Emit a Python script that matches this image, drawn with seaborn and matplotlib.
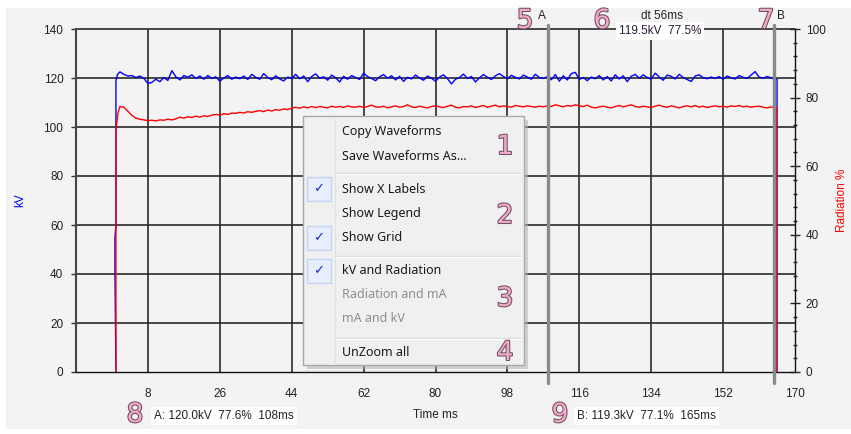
import matplotlib
matplotlib.use("Agg")
import matplotlib.pyplot as plt
import matplotlib.patheffects as pe
from matplotlib.patches import Rectangle
from matplotlib.lines import Line2D
import seaborn as sns

# ---------------- data ----------------
sample_time = list(range(1, 166))          # ms, 1 ms sampling

kv_start_time = [0.0, -0.25, -0.25, 0.0, 0.0, 0.4]
kv_start_values = [0, 41, 55, 60, 119, 121.5]
kv_values = [
    122.5, 121.5, 120.8, 121.0, 120.2, 120.8, 119.8, 117.8, 118.2, 119.5,
    118.5, 120.2, 119.0, 123.0, 120.5, 119.2, 121.0, 120.3, 121.3, 119.8,
    120.8, 119.5, 121.0, 119.8, 120.5, 118.7, 120.0, 121.0, 119.5, 120.4,
    119.7, 120.8, 119.4, 121.5, 120.3, 119.5, 121.8, 120.2, 119.3, 120.9,
    119.6, 118.8, 120.4, 119.8, 121.5, 119.7, 120.8, 118.5, 120.6, 121.7,
    119.9, 120.5, 119.1, 121.2, 120.1, 118.4, 120.7, 119.5, 121.0, 120.2,
    119.4, 122.0, 120.6, 119.8, 118.9, 120.5, 121.4, 119.9, 120.9, 119.2,
    120.7, 118.6, 120.3, 119.6, 121.2, 120.0, 119.1, 120.8, 119.9, 118.7,
    120.4, 121.3, 119.7, 117.6, 119.5, 120.2, 121.6, 119.8, 120.6, 118.4,
    120.1, 121.4, 120.3, 119.4, 120.9, 121.8, 120.6, 119.7, 121.1, 120.3,
    119.6, 121.2, 120.4, 119.5, 121.5, 120.2, 119.8, 120.5, 119.3, 121.4,
    118.7, 120.9, 119.2, 121.8, 122.3, 119.4, 120.2, 118.9, 120.4, 119.7,
    121.0, 119.2, 120.6, 118.8, 121.3, 119.6, 120.9, 118.5, 120.7, 121.5,
    119.9, 121.3, 120.2, 119.5, 122.0, 120.4, 119.1, 121.2, 120.7, 119.6,
    121.5, 120.2, 119.4, 118.6, 120.8, 121.3, 120.1, 119.7, 120.4, 119.8,
    120.6, 119.5, 120.8, 120.1, 119.6, 121.0, 120.3, 119.8, 121.2, 122.6,
    120.4, 119.9, 120.6, 120.1, 119.5,
]
kv_end_time = [165.5, 165.5]
kv_end_values = [119.5, 0]

rad_start_time = [0.0, 0.0, 0.5]
rad_start_values = [0, 70.5, 75.5]
rad_values = [
    77.4, 77.2, 76.0, 74.8, 74.0, 73.7, 73.5, 73.3, 73.4, 73.2,
    73.5, 73.4, 73.7, 73.5, 73.8, 74.3, 74.0, 74.4, 74.2, 74.6,
    74.3, 74.7, 74.5, 74.9, 75.1, 74.9, 75.3, 75.1, 75.5, 75.4,
    75.7, 75.5, 75.9, 75.7, 76.0, 76.2, 75.9, 76.4, 76.1, 76.5,
    76.3, 76.7, 76.5, 76.9, 77.2, 76.9, 77.3, 77.0, 77.4, 77.1,
    77.4, 77.2, 77.0, 77.5, 77.2, 77.4, 77.1, 77.6, 77.3, 77.2,
    77.5, 77.1, 77.4, 77.8, 77.3, 77.2, 77.5, 77.0, 77.3, 77.6,
    77.2, 77.4, 77.9, 77.3, 77.1, 77.5, 77.2, 77.0, 77.4, 77.6,
    77.3, 77.1, 77.5, 77.8, 77.2, 77.0, 77.4, 77.3, 77.6, 77.1,
    77.4, 77.7, 77.2, 77.5, 77.8, 77.3, 77.6, 77.4, 77.2, 77.7,
    77.5, 77.3, 77.6, 77.4, 77.2, 77.5, 77.3, 77.6, 77.4, 77.9,
    77.6, 77.3, 77.7, 77.5, 77.9, 77.6, 77.4, 77.8, 77.2, 77.0,
    77.3, 77.5, 77.2, 77.0, 77.4, 77.7, 77.3, 77.6, 77.9, 77.4,
    77.2, 77.5, 77.3, 77.1, 77.5, 77.8, 77.4, 77.2, 77.6, 77.3,
    77.0, 77.4, 77.6, 77.3, 77.7, 77.2, 77.5, 77.1, 77.4, 77.6,
    77.3, 77.5, 77.2, 77.6, 77.4, 77.7, 77.3, 77.5, 77.2, 77.4,
    77.5, 77.2, 77.0, 77.3, 77.1,
]
rad_end_time = [165.5, 165.5]
rad_end_values = [77.1, 0]

x_ticks = [8, 26, 44, 62, 80, 98, 116, 134, 152, 170]
kv_ticks = [0, 20, 40, 60, 80, 100, 120, 140]
rad_ticks = [0, 20, 40, 60, 80, 100]
rad_minor_ticks = list(range(0, 101, 4))

cursor_a = 108.25
cursor_b = 164.75
cursor_a_label = "A: 120.0kV  77.6%  108ms"
cursor_b_label = "B: 119.3kV  77.1%  165ms"
delta_label = "dt 56ms"
delta_values = "119.5kV  77.5%"

menu_items = ["Copy Waveforms", "Save Waveforms As...", "Show X Labels", "Show Legend",
              "Show Grid", "kV and Radiation", "Radiation and mA", "mA and kV", "UnZoom all"]
menu_checked = [False, False, True, False, True, True, False, False, False]
menu_enabled = [True, True, True, True, True, True, False, False, True]

# ---------------- figure ----------------
W, H = 851, 434
sns.set_style("white")
plt.rcParams["font.family"] = ["Liberation Sans", "DejaVu Sans"]

fig = plt.figure(figsize=(W / 100, H / 100), dpi=100)
fig.patch.set_facecolor("white")


def fx(x):
    return x / W


def fy(y):
    return 1 - y / H


# grey panel background
fig.patches.append(Rectangle((fx(6), fy(429)), fx(851) - fx(6), fy(8) - fy(429),
                             transform=fig.transFigure, facecolor="#f3f3f3",
                             edgecolor="none", zorder=-10))

ax = fig.add_axes([fx(76), fy(372), fx(795) - fx(76), fy(29) - fy(372)])
ax.set_facecolor("none")
ax2 = ax.twinx()
ax2.set_facecolor("none")

kv_time_all = kv_start_time + sample_time + kv_end_time
kv_all = kv_start_values + kv_values + kv_end_values
rad_time_all = rad_start_time + sample_time + rad_end_time
rad_all = rad_start_values + rad_values + rad_end_values

sns.lineplot(x=kv_time_all, y=kv_all, sort=False, estimator=None, color="#0000ff",
             lw=1.0, ax=ax, zorder=3)
sns.lineplot(x=rad_time_all, y=rad_all, sort=False, estimator=None, color="#ff0000",
             lw=1.0, ax=ax2, zorder=3)

ax.set_xlim(-10, 170)
ax.set_ylim(0, 140)
ax2.set_ylim(0, 100)

# grid
for xv in x_ticks[:-1]:
    ax.axvline(xv, color="#2a2a2a", lw=1.2, zorder=1)
for yv in kv_ticks[1:]:
    ax.axhline(yv, color="#2a2a2a", lw=1.2, zorder=1, clip_on=False)

ax.set_xticks(x_ticks)
ax.set_yticks(kv_ticks)
ax.tick_params(axis="x", direction="out", length=5, width=1, color="#222222",
               labelsize=8.5, pad=6.5, labelcolor="#222222")
ax.tick_params(axis="y", direction="out", length=3.6, width=1, color="#333333",
               labelsize=8.5, pad=5.5, labelcolor="#222222")
for s in ["top", "right"]:
    ax.spines[s].set_visible(False)
ax.spines["left"].set_color("#444444")
ax.spines["left"].set_linewidth(1.5)
ax.spines["bottom"].set_color("#111111")
ax.spines["bottom"].set_linewidth(1.0)

ax2.set_yticks(rad_ticks)
ax2.set_yticks(rad_minor_ticks, minor=True)
ax2.tick_params(axis="y", which="major", direction="inout", length=7.2, width=1,
                color="#222222", labelsize=8.5, pad=4, labelcolor="#222222")
ax2.tick_params(axis="y", which="minor", direction="inout", length=3, width=1,
                color="#222222")
for s in ["top", "left", "bottom"]:
    ax2.spines[s].set_visible(False)
ax2.spines["right"].set_color("#111111")
ax2.spines["right"].set_linewidth(1.0)

ax.set_xlabel("")
ax.set_ylabel("")
ax2.set_ylabel("")

# axis titles
fig.text(fx(20), fy(200), "kV", color="#0000ff", rotation=90, ha="center", va="center",
         fontsize=8.5)
fig.text(fx(842), fy(200), "Radiation %", color="#ff0000", rotation=90, ha="center",
         va="center", fontsize=8.5)
fig.text(fx(435), fy(415), "Time ms", color="#222222", ha="center", va="center", fontsize=8.5)

# cursors
for cx in (cursor_a, cursor_b):
    ax2.axvline(cx, ymin=-0.032, ymax=1.012, color="#8a8a8a", lw=2.4, clip_on=False, zorder=5)
fig.text(fx(542), fy(16), "A", color="#222222", ha="center", va="center", fontsize=8.5)
fig.text(fx(781), fy(16), "B", color="#222222", ha="center", va="center", fontsize=8.5)

white_box = dict(facecolor="white", edgecolor="none", pad=2.0)
fig.text(fx(662), fy(16), delta_label, color="#222222", ha="center", va="center", fontsize=8.5)
fig.text(fx(660), fy(31), delta_values, color="#2a1a3a", ha="center", va="center",
         fontsize=8.5, bbox=white_box)
fig.text(fx(154), fy(416), cursor_a_label, color="#222222", ha="left", va="center",
         fontsize=8.5, bbox=white_box)
fig.text(fx(577), fy(416), cursor_b_label, color="#222222", ha="left", va="center",
         fontsize=8.5, bbox=white_box)

# ---------------- context menu ----------------
mx0, my0, mx1, my1 = 303, 116, 524, 365
fig.patches.append(Rectangle((fx(mx0 + 4), fy(my1 + 4)), fx(mx1) - fx(mx0), fy(my0) - fy(my1),
                             transform=fig.transFigure, facecolor="#b4b4b4", alpha=0.55,
                             edgecolor="none", zorder=20))
fig.patches.append(Rectangle((fx(mx0), fy(my1)), fx(mx1) - fx(mx0), fy(my0) - fy(my1),
                             transform=fig.transFigure, facecolor="#f0f0f0",
                             edgecolor="#a9a9a9", lw=1.0, zorder=21))
fig.lines.append(Line2D([fx(335), fx(335)], [fy(my0 + 3), fy(my1 - 3)], transform=fig.transFigure,
                        color="#e2e2e2", lw=1.0, zorder=22))
for sy in (173, 256, 338):
    fig.lines.append(Line2D([fx(336), fx(521)], [fy(sy), fy(sy)], transform=fig.transFigure,
                            color="#d7d7d7", lw=1.0, zorder=22))
    fig.lines.append(Line2D([fx(336), fx(521)], [fy(sy + 1), fy(sy + 1)],
                            transform=fig.transFigure, color="#ffffff", lw=1.0, zorder=22))

item_y = [132, 156, 189, 213, 238, 271, 295, 319, 353]
for label, yy, checked, enabled in zip(menu_items, item_y, menu_checked, menu_enabled):
    fig.text(fx(342), fy(yy), label, ha="left", va="center", fontsize=9.0,
             family=["Noto Sans", "DejaVu Sans"],
             color="#1a1a1a" if enabled else "#8e8e8e", zorder=23)
    if checked:
        fig.patches.append(Rectangle((fx(307), fy(yy + 12)), fx(331) - fx(307), fy(yy - 12) - fy(yy + 12),
                                     transform=fig.transFigure, facecolor="#e8effc",
                                     edgecolor="#c3d5f3", lw=1.0, zorder=22))
        fig.text(fx(319), fy(yy), "\u2713", ha="center", va="center", fontsize=9.5,
                 family=["DejaVu Sans"], color="#1f2fb8", zorder=23)

# ---------------- pink callout numbers ----------------
callouts = [("1", 505, 147), ("2", 505, 216), ("3", 505, 299), ("4", 505, 353),
            ("5", 525, 21), ("6", 602, 21), ("7", 766, 21), ("8", 135, 415), ("9", 560, 415)]
for txt, x, y in callouts:
    fig.text(fx(x), fy(y), txt, ha="center", va="center", fontsize=19,
             family=["DejaVu Sans"], color="#f3a9c9", zorder=30,
             path_effects=[pe.withStroke(linewidth=1.5, foreground="#6e5060")])

fig.savefig("out.png", dpi=100)
